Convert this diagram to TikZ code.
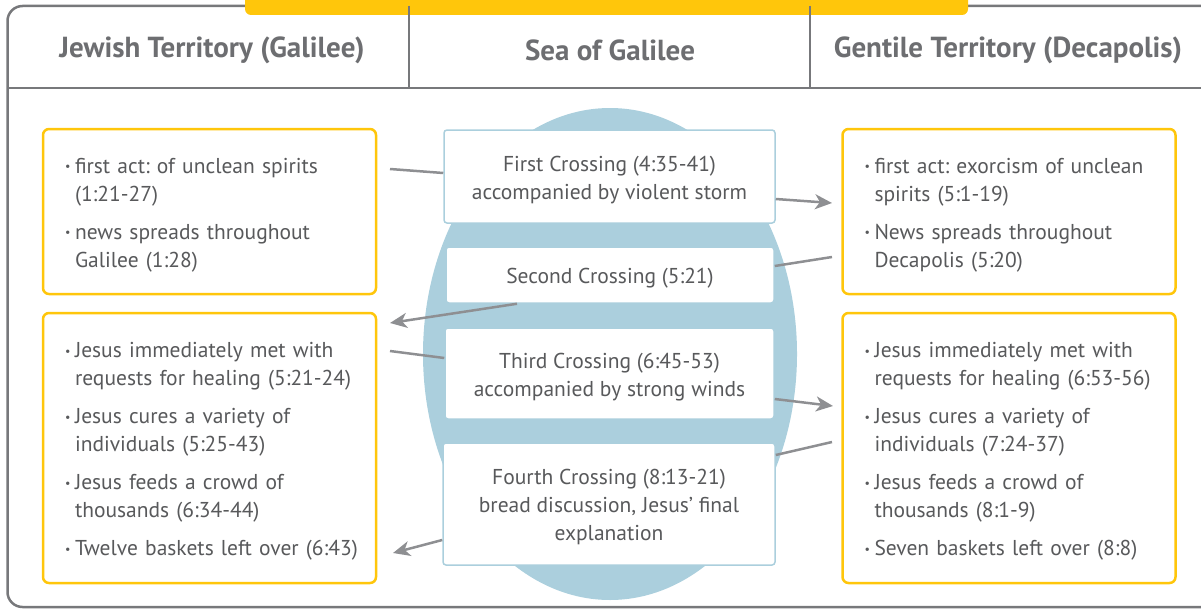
\documentclass[tikz,border=0pt]{standalone}
\usepackage{fontspec}
\setmainfont{PT Sans}
\usetikzlibrary{arrows.meta}
\frenchspacing
\definecolor{ylw}{HTML}{FFC60B}
\definecolor{sea}{HTML}{ABCFDD}
\definecolor{frm}{HTML}{77787B}
\definecolor{agray}{HTML}{8E8F92}
\definecolor{txt}{HTML}{58595B}
\definecolor{htxt}{HTML}{6D6E71}
\newcommand{\tp}{\rule{0pt}{22pt}}
\newcommand{\bl}{\hspace*{11pt}\makebox[10pt][l]{\raisebox{2.5pt}{\fontsize{12}{12}\selectfont\textbullet}}}
\newcommand{\ind}{\hspace*{21pt}}
\tikzset{
  frameline/.style={draw=frm, line width=2.5pt},
  headtxt/.style={font=\fontsize{29}{33}\selectfont\bfseries, text=htxt},
  crossbox/.style={draw=sea, line width=1.5pt, fill=white, rounded corners=3pt, align=center,
     font=\fontsize{21.5}{28}\selectfont\frenchspacing, text=txt, inner sep=0pt},
  ybox/.style={draw=ylw, line width=2.5pt, fill=white, rounded corners=6pt, align=left,
     font=\fontsize{21.5}{28}\selectfont\frenchspacing, text=txt, inner xsep=11pt, inner ysep=0pt, text width=311pt},
  conn/.style={draw=agray, line width=2.5pt},
  arr/.style={conn, -{Stealth[length=17pt,width=15pt,inset=5pt]}}
}
\begin{document}
\begin{tikzpicture}[x=1pt,y=-1pt]
\useasboundingbox (0,0) rectangle (1201,610);
\begin{scope}
\clip (0,0) rectangle (1201,610);
\draw[frameline, rounded corners=15pt] (7.5,6) rectangle (1240,607);
\fill[ylw, rounded corners=6pt] (245,-20) rectangle (968,15);
\end{scope}
\draw[frameline] (7.5,88) -- (1201,88);
\draw[frameline] (409,6) -- (409,88);
\draw[frameline] (810,6) -- (810,88);
\node[headtxt] (h1) at (212,50) {Jewish Territory (Galilee)};
\node[headtxt] (h2) at (610,50) {Sea of Galilee};
\node[headtxt] (h3) at (1008,50) {Gentile Territory (Decapolis)};
% sea
\fill[sea] (610,354) ellipse [x radius=187, y radius=246];
% crossing boxes
\node[crossbox, minimum width=331pt, minimum height=93pt] (cr1) at (609.5,176.5)
  {\tp First Crossing (4:35-41)\\accompanied by violent storm};
\node[crossbox, minimum width=328pt, minimum height=56pt] (cr2) at (610,275)
  {\tp Second Crossing (5:21)};
\node[crossbox, minimum width=329pt, minimum height=91pt] (cr3) at (609.5,373.5)
  {\tp Third Crossing (6:45-53)\\accompanied by strong winds};
\node[crossbox, minimum width=332pt, minimum height=122pt] (cr4) at (609,504)
  {\tp Fourth Crossing (8:13-21)\\bread discussion, Jesus’ final\\explanation};
% territory boxes
\node[ybox, minimum height=165pt] (l1) at (209.5,211.5)
  {\bl\tp first act: of unclean spirits\\\ind(1:21-27)\\[10pt]\bl news spreads throughout\\\ind Galilee (1:28)};
\node[ybox, minimum height=165pt] (r1) at (1009,211.5)
  {\bl\tp first act: exorcism of unclean\\\ind spirits (5:1-19)\\[10pt]\bl News spreads throughout\\\ind Decapolis (5:20)};
\node[ybox, minimum height=270pt] (l2) at (209.5,448)
  {\bl\tp Jesus immediately met with\\\ind requests for healing (5:21-24)\\[10pt]\bl Jesus cures a variety of\\\ind individuals (5:25-43)\\[10pt]\bl Jesus feeds a crowd of\\\ind thousands (6:34-44)\\[10pt]\bl Twelve baskets left over (6:43)};
\node[ybox, minimum height=270pt] (r2) at (1009,448)
  {\bl\tp Jesus immediately met with\\\ind requests for healing (6:53-56)\\[10pt]\bl Jesus cures a variety of\\\ind individuals (7:24-37)\\[10pt]\bl Jesus feeds a crowd of\\\ind thousands (8:1-9)\\[10pt]\bl Seven baskets left over (8:8)};
% connectors
\coordinate (c1) at (390,169);
\coordinate (c2) at (832,203);
\coordinate (c3) at (832,257);
\coordinate (c4) at (390,323);
\coordinate (c5) at (390,351);
\coordinate (c6) at (833,406);
\coordinate (c7) at (832,442);
\coordinate (c8) at (393,553);
\draw[conn] (c1) -- ([yshift=3.5pt]cr1.west);
\draw[arr] ([yshift=-22.5pt]cr1.east) -- (c2);
\draw[conn] (c3) -- ([yshift=9pt]cr2.east);
\draw[arr] ([xshift=-93pt]cr2.south) -- (c4);
\draw[conn] (c5) -- ([yshift=15.5pt]cr3.west);
\draw[arr] ([yshift=-25.5pt]cr3.east) -- (c6);
\draw[conn] (c7) -- ([yshift=49pt]cr4.east);
\draw[arr] ([yshift=-36pt]cr4.west) -- (c8);
\end{tikzpicture}
\end{document}
